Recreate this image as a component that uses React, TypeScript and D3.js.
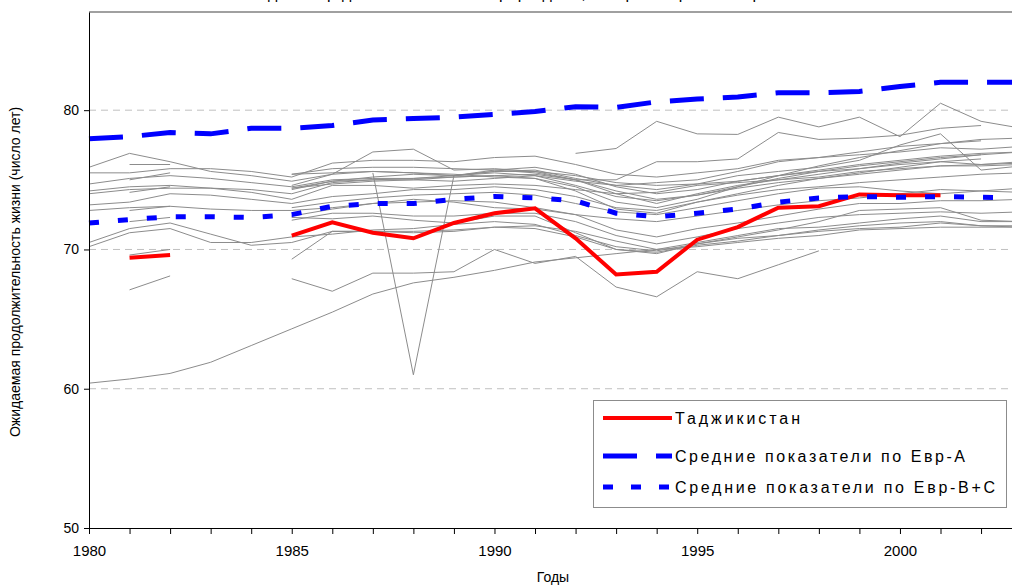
import React, { useEffect, useRef } from "react";
import * as d3 from "d3";

type V = number | null;

const years = [1980, 1981, 1982, 1983, 1984, 1985, 1986, 1987, 1988, 1989, 1990, 1991,
  1992, 1993, 1994, 1995, 1996, 1997, 1998, 1999, 2000, 2001, 2002, 2003];
const yTicks = [50, 60, 70, 80];
const xLabelYears = [1980, 1985, 1990, 1995, 2000];

const tajikistan: V[] = [null, 69.4, 69.6, null, null, 71.0, 71.95, 71.2, 70.8, 71.9, 72.6, 72.95,
  70.8, 68.2, 68.4, 70.7, 71.6, 73.0, 73.1, 73.95, 73.9, 73.9, null, null];
const eurA: V[] = [77.95, 78.1, 78.4, 78.3, 78.7, 78.7, 78.9, 79.3, 79.4, 79.5, 79.7, 79.9,
  80.25, 80.2, 80.6, 80.8, 80.95, 81.25, 81.25, 81.35, 81.7, 82.0, 82.0, 82.0];
const eurBC: V[] = [71.9, 72.15, 72.35, 72.35, 72.3, 72.5, 73.1, 73.3, 73.3, 73.6, 73.8, 73.7,
  73.5, 72.6, 72.35, 72.6, 72.9, 73.4, 73.7, 73.8, 73.75, 73.8, 73.75, 73.7];

// other countries of the region (grey)
const c01: V[] = [75.9, 76.9, 76.3, 75.6, 75.3, 74.9, 75.4, 75.6, 75.5, 75.3, 75.6, 75.7, 75.1, 74.6, 74.8, 75.0, 75.6, 76.3, 76.6, 77.0, 77.4, 77.6, 77.9, 78.0];
const c02: V[] = [75.5, 75.5, 75.8, 75.8, 75.6, 75.2, 76.2, 76.4, 76.4, 76.3, 76.6, 76.7, 76.1, 75.4, 75.2, 75.5, 75.8, 76.4, 76.6, 76.8, 77.0, 77.3, 77.2, 77.4];
const c03: V[] = [74.7, 75.1, 75.3, 75.1, 74.8, 74.5, 75.0, 75.1, 75.1, 75.3, 75.6, 75.6, 75.3, 74.8, 74.6, 74.7, 75.3, 75.6, 75.9, 76.4, 77.5, 78.3, 75.7, 76.0];
const c04: V[] = [74.2, 74.5, 74.6, 74.4, 74.3, 74.0, 74.8, 75.0, 75.0, 74.9, 75.1, 75.3, 74.9, 74.6, 74.3, 74.7, 74.9, 75.3, 75.6, 75.8, 76.1, 76.3, 76.1, 76.2];
const c05: V[] = [74.0, 74.3, 74.4, 74.4, 74.1, 73.6, 74.6, 74.6, 74.4, 74.6, 74.7, 74.6, 74.3, 74.0, 74.1, 74.6, 74.8, 75.0, 75.2, 75.6, 75.8, 76.0, 76.0, 76.1];
const c06: V[] = [73.2, 73.4, 74.0, 73.9, 73.6, 73.3, 73.8, 74.0, 74.3, 74.3, 74.5, 74.3, 73.8, 73.0, 72.8, 73.4, 73.9, 74.3, 74.5, 74.8, 75.0, 75.2, 75.4, 75.5];
const c07: V[] = [72.8, 73.0, 73.1, 72.9, 72.8, 72.8, 73.0, 73.3, 73.6, 73.4, 73.0, 72.9, 72.5, 72.2, 72.0, 72.4, 72.8, 73.2, 73.5, 73.7, 74.0, 74.3, 74.2, 74.4];
const c08: V[] = [70.5, 71.5, 71.9, 71.1, 70.3, 70.5, 71.3, 71.3, 71.2, 71.3, 71.6, 71.7, 71.3, 70.6, 70.0, 70.5, 71.0, 71.5, 71.6, 71.9, 72.2, 72.4, 72.0, 72.0];
const c09: V[] = [70.2, 71.2, 71.5, 70.5, 70.5, 70.9, 71.1, 71.4, 71.5, 71.8, 72.0, 71.8, 71.0, 70.2, 69.9, 70.4, 70.8, 71.0, 71.3, 71.5, 71.6, 71.9, 71.7, 71.6];
const c10: V[] = [60.4, 60.7, 61.1, 61.9, 63.1, 64.3, 65.5, 66.8, 67.6, 68.0, 68.5, 69.1, 69.4, 69.7, 70.0, 70.2, 70.5, 70.8, 71.0, 71.4, 71.5, 71.6, 71.6, 71.6];
const c11: V[] = [null, 76.1, 76.1, null, null, 75.4, 75.8, 75.9, 75.9, 75.8, 75.7, 75.5, 75.0, 74.0, 73.3, 74.0, 74.6, 75.0, 75.4, 75.8, 76.2, 76.5, 76.8, 77.0];
const c12: V[] = [null, 75.0, 75.5, null, null, 74.6, 75.4, 77.0, 77.2, 75.7, 75.8, 75.6, 75.0, 74.2, 73.6, 73.9, 74.5, 75.1, 75.6, 76.0, 76.3, 76.6, 76.8, null];
const c13: V[] = [null, 74.1, 74.5, null, null, 74.3, 74.9, 75.2, 75.4, 75.3, 75.5, 75.3, 74.6, 73.8, 73.5, 73.9, 74.4, 74.8, 75.1, 75.4, 75.7, 76.0, 76.1, 76.3];
const c14: V[] = [null, 72.8, 73.1, null, null, 72.4, 72.9, 73.3, 73.4, 73.5, 73.4, 73.0, 72.5, 71.4, 70.9, 71.5, 71.9, 72.4, 72.9, 73.3, 73.3, 73.5, 73.5, 73.6];
const c15: V[] = [null, 72.0, 72.3, null, null, 72.1, 72.6, 72.6, 72.4, 72.4, 72.6, 72.6, 72.0, 71.0, 70.4, 70.9, 71.5, 71.9, 72.3, 72.5, 72.6, 72.7, 72.6, 72.7];
const c16: V[] = [null, 69.6, 70.0, null, null, 69.3, 71.3, 71.3, 71.3, 71.4, 71.6, 71.5, 70.9, 70.0, 69.8, 70.3, 70.6, 71.0, 71.4, 71.7, 71.9, 72.0, 71.7, 71.7];
const c17: V[] = [null, 67.1, 68.1, null, null, 67.9, 67.0, 68.3, 68.3, 68.4, 70.0, 69.0, 69.5, 67.3, 66.6, 68.4, 67.9, 68.9, 69.9, null, null, null, null, null];
const c18: V[] = [null, null, null, null, null, null, null, 75.5, 61.0, 75.3, 75.7, 75.9, 75.4, 74.5, 74.0, 74.3, 74.9, 75.3, 75.7, 76.1, 76.4, 76.7, 76.9, 77.0];
const c19: V[] = [null, null, null, null, null, null, null, null, null, null, null, null, 76.9, 77.25, 79.2, 78.3, 78.26, 79.5, 78.8, 79.5, 78.1, 80.5, 79.2, 78.7];
const c20: V[] = [null, null, null, null, null, 74.4, 74.9, 75.0, 75.1, 75.2, 75.3, 75.4, 75.0, 75.0, 76.3, 76.3, 76.5, 78.4, 77.9, 78.0, 78.2, 78.7, 78.9, null];
const c21: V[] = [null, null, null, null, null, 75.4, 75.5, 75.6, 75.5, 75.4, 75.2, 75.1, 74.5, 73.4, 73.0, 73.6, 74.5, 75.3, 76.0, 76.6, 77.1, 77.6, 77.8, null];
const c22: V[] = [null, null, null, null, null, 74.4, 74.7, 74.9, 75.0, 75.2, 75.3, 75.1, 74.2, 72.9, 72.6, 73.4, 74.0, 74.6, 75.1, 75.5, 75.9, 76.3, 76.5, null];
const c23: V[] = [null, null, null, null, null, 72.3, 72.2, 72.4, 72.1, 71.9, 72.4, 72.4, 71.2, 70.0, 69.7, 70.4, 70.9, 71.4, 72.0, 72.8, 72.9, 73.0, 72.1, 72.0];
const c24: V[] = [null, null, null, null, null, 73.0, 73.4, 73.7, 73.9, 74.0, 74.1, 73.9, 73.3, 72.7, 72.5, 73.0, 73.5, 74.0, 74.4, 74.5, 74.2, 74.0, 74.2, 74.1];

const greyCountries = [c01, c02, c03, c04, c05, c06, c07, c08, c09, c10, c11, c12,
  c13, c14, c15, c16, c17, c18, c19, c20, c21, c22, c23, c24];

const legendItems = [
  { label: "Таджикистан", color: "#ff0000", width: 4, dash: null, textLen: 125 },
  { label: "Средние показатели по Евр-А", color: "#0000ff", width: 5, dash: "34,19", textLen: 290 },
  { label: "Средние показатели по Евр-В+С", color: "#0000ff", width: 5, dash: "10,18", textLen: 320 },
];

const FONT = "'Liberation Sans', Arial, sans-serif";

export default function App() {
  const ref = useRef<SVGSVGElement>(null);

  useEffect(() => {
    const svg = d3.select(ref.current);
    svg.selectAll("*").remove();

    const x = d3.scaleLinear().domain([1980, 2003]).range([89, 1021.6]);
    const y = d3.scaleLinear().domain([50, 87.05]).range([528, 12]);

    svg.append("rect").attr("width", 1012).attr("height", 586).attr("fill", "#fff");

    // cut-off title (only the descenders show)
    svg.append("text")
      .attr("x", 522).attr("y", -1)
      .attr("text-anchor", "middle")
      .attr("textLength", 565)
      .style("font-family", FONT).style("font-size", "16px")
      .text("Ожидаемая продолжительность жизни при рождении, все страны Европейского региона");

    // grid
    svg.append("g").selectAll("line")
      .data([60, 70, 80])
      .enter().append("line")
      .attr("x1", 89).attr("x2", 1012)
      .attr("y1", (d) => y(d)).attr("y2", (d) => y(d))
      .attr("stroke", "#c0c0c0").attr("stroke-dasharray", "7,5");

    svg.append("line")
      .attr("x1", 89).attr("x2", 1012).attr("y1", y(87.05)).attr("y2", y(87.05))
      .attr("stroke", "#a0a0a0").attr("stroke-width", 2);

    const line = d3.line<V>()
      .defined((d) => d != null)
      .x((d, i) => x(years[i]))
      .y((d) => y(d as number));

    const plot = svg.append("g");
    plot.selectAll("path.grey")
      .data(greyCountries)
      .enter().append("path")
      .attr("class", "grey")
      .attr("d", (d) => line(d))
      .attr("fill", "none").attr("stroke", "#8c8c8c").attr("stroke-width", 1);

    plot.append("path").attr("d", line(tajikistan))
      .attr("fill", "none").attr("stroke", "#ff0000").attr("stroke-width", 4);
    plot.append("path").attr("d", line(eurA))
      .attr("fill", "none").attr("stroke", "#0000ff").attr("stroke-width", 5)
      .attr("stroke-dasharray", "34,19");
    plot.append("path").attr("d", line(eurBC))
      .attr("fill", "none").attr("stroke", "#0000ff").attr("stroke-width", 5)
      .attr("stroke-dasharray", "10,19");

    // axes
    const yAxis = svg.append("g").attr("transform", "translate(89,0)")
      .call(d3.axisLeft(y).tickValues(yTicks).tickSize(5).tickSizeOuter(0).tickPadding(5));
    yAxis.selectAll("text").style("font-family", FONT).style("font-size", "14px").attr("fill", "#000");
    yAxis.selectAll("line, path").attr("stroke", "#000");

    const xAxis = svg.append("g").attr("transform", "translate(0,528)")
      .call(d3.axisBottom(x).tickValues(years).tickSize(6).tickSizeOuter(0).tickPadding(11)
        .tickFormat((d) => (xLabelYears.includes(+d) ? String(d) : "")));
    xAxis.selectAll("text").style("font-family", FONT).style("font-size", "15px").attr("fill", "#000");
    xAxis.selectAll("line, path").attr("stroke", "#000");

    svg.append("text")
      .attr("x", 553).attr("y", 582)
      .attr("text-anchor", "middle")
      .style("font-family", FONT).style("font-size", "14px")
      .text("Годы");

    svg.append("text")
      .attr("transform", "translate(20,272) rotate(-90)")
      .attr("text-anchor", "middle")
      .style("font-family", FONT).style("font-size", "14px")
      .text("Ожидаемая продолжительность жизни (число лет)");

    // legend
    const lg = svg.append("g");
    lg.append("rect")
      .attr("x", 593.5).attr("y", 400.5).attr("width", 413).attr("height", 107)
      .attr("fill", "#fff").attr("stroke", "#8c8c8c");
    const rowsY = [418, 456, 487];
    legendItems.forEach((it, i) => {
      lg.append("line")
        .attr("x1", 603).attr("x2", 672).attr("y1", rowsY[i]).attr("y2", rowsY[i])
        .attr("stroke", it.color).attr("stroke-width", it.width)
        .attr("stroke-dasharray", it.dash);
      lg.append("text")
        .attr("x", 675).attr("y", rowsY[i] + 6)
        .attr("textLength", it.textLen)
        .style("font-family", FONT).style("font-size", "16px")
        .text(it.label);
    });
  }, []);

  return (
    <svg ref={ref} width={1012} height={586}
      style={{ position: "absolute", left: 0, top: 0, display: "block" }} />
  );
}
